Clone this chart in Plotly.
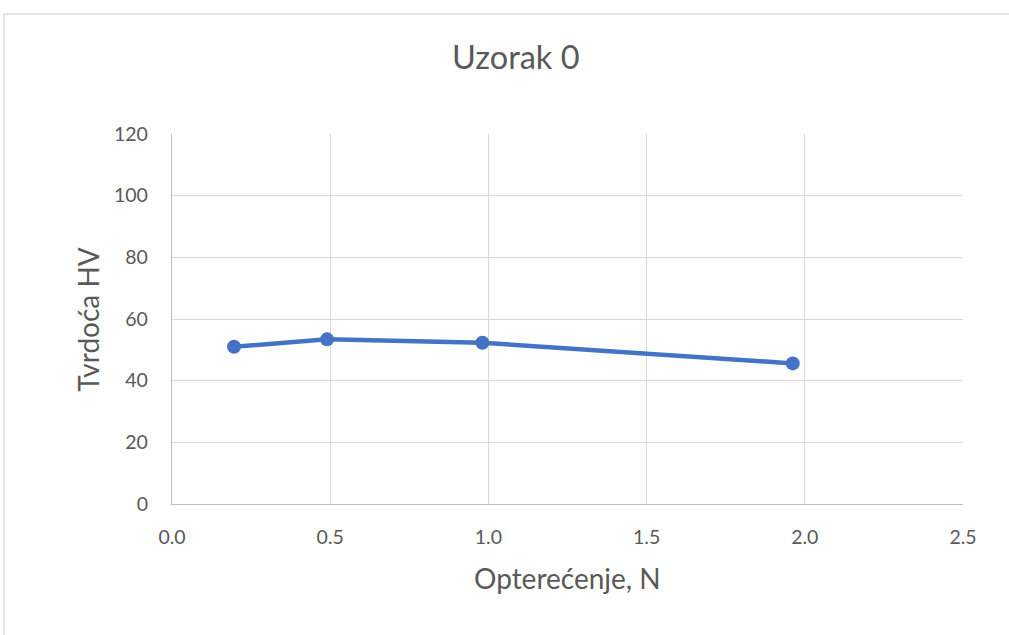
import plotly.graph_objects as go

load_n = [0.196, 0.49, 0.981, 1.962]
hardness_hv = [51.0, 53.4, 52.3, 45.6]
x_ticks = [0.0, 0.5, 1.0, 1.5, 2.0, 2.5]
x_tick_text = ["0.0", "0.5", "1.0", "1.5", "2.0", "2.5"]
y_ticks = [0, 20, 40, 60, 80, 100, 120]

font_family = "Lato, Open Sans, sans-serif"
text_color = "#595959"

fig = go.Figure()
fig.add_trace(go.Scatter(
    x=load_n, y=hardness_hv, mode="lines+markers",
    line=dict(color="#4472C4", width=4.5),
    marker=dict(color="#4472C4", size=14),
    showlegend=False,
))

fig.update_layout(
    width=1009, height=635,
    margin=dict(l=172, r=46, t=134, b=131),
    paper_bgcolor="white", plot_bgcolor="white",
    font=dict(family=font_family, color=text_color),
    xaxis=dict(
        range=[0, 2.5], tickvals=x_ticks, ticktext=x_tick_text,
        showgrid=True, gridcolor="#d9d9d9", gridwidth=1.3,
        showline=True, linecolor="#bfbfbf", linewidth=1.3,
        zeroline=False, ticks="", tickfont=dict(size=19.5, color=text_color),
        ticklabelstandoff=15,
    ),
    yaxis=dict(
        range=[0, 120], tickvals=y_ticks,
        showgrid=True, gridcolor="#d9d9d9", gridwidth=1.3,
        showline=True, linecolor="#bfbfbf", linewidth=1.3,
        zeroline=False, ticks="", tickfont=dict(size=19.5, color=text_color),
        ticklabelstandoff=19,
    ),
    annotations=[
        dict(text="Uzorak 0", xref="paper", yref="paper", x=0.435, y=1.21,
             xanchor="center", yanchor="middle", showarrow=False,
             font=dict(size=32.5, color=text_color)),
        dict(text="Opterećenje, N", xref="paper", yref="paper", x=0.5, y=-0.2,
             xanchor="center", yanchor="middle", showarrow=False,
             font=dict(size=28, color=text_color)),
        dict(text="Tvrdoća HV", xref="paper", yref="paper", x=-0.1065, y=0.5,
             xanchor="center", yanchor="middle", showarrow=False, textangle=-90,
             font=dict(size=28, color=text_color)),
    ],
    shapes=[dict(type="rect", xref="paper", yref="paper",
                 x0=-0.2124, x1=1.2, y0=-0.6, y1=1.3243,
                 line=dict(color="#d9d9d9", width=1.3), layer="below")],
)

fig.write_html("out.html", config={"displayModeBar": False},
               post_script="document.body.style.margin='0';")
